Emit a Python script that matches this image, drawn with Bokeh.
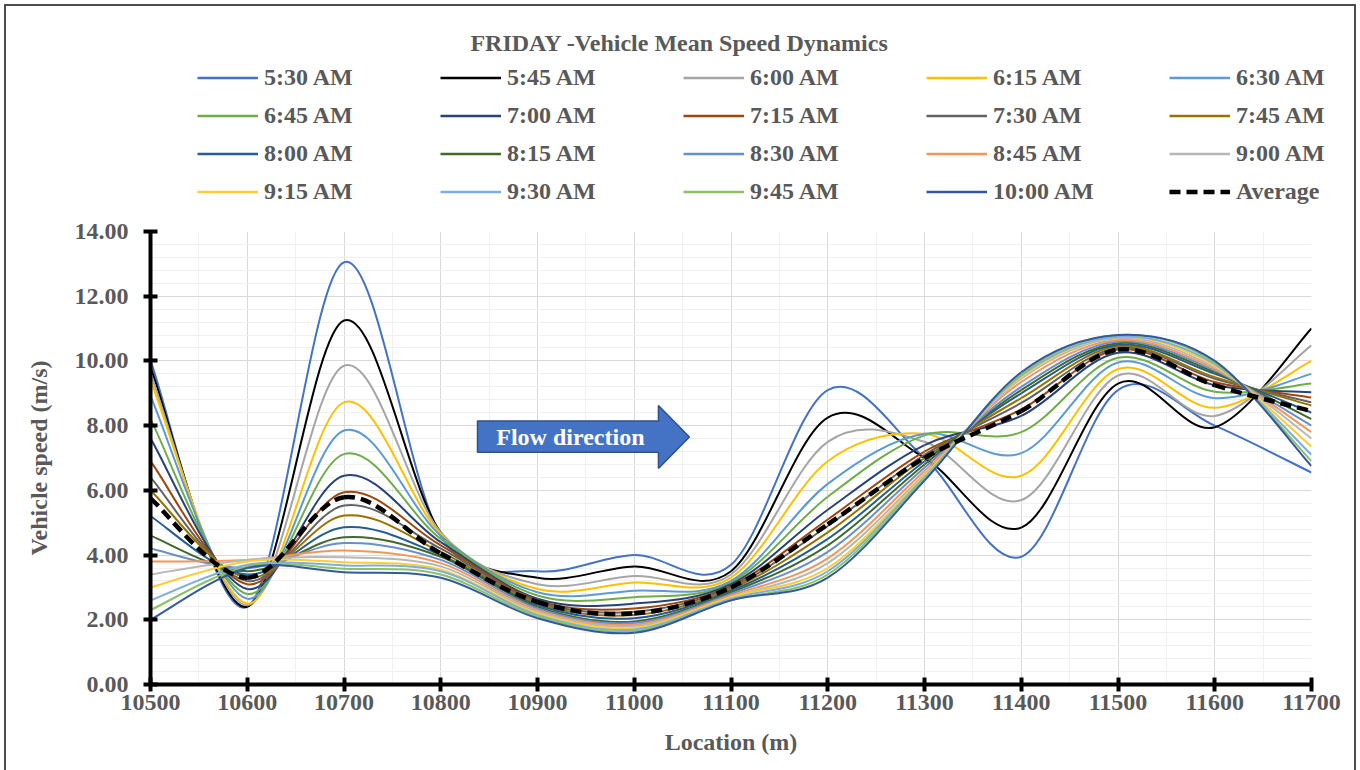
import numpy as np
from bokeh.plotting import figure
from bokeh.layouts import column, row
from bokeh.models import (ColumnDataSource, Legend, LegendItem, Range1d,
                          SingleIntervalTicker, NumeralTickFormatter, Label)
from bokeh.embed import file_html
from bokeh.resources import INLINE

# ---------------- data ----------------
locations = [10500, 10600, 10700, 10800, 10900, 11000, 11100, 11200, 11300, 11400, 11500, 11600, 11700]

time_labels = ["5:30 AM", "5:45 AM", "6:00 AM", "6:15 AM", "6:30 AM",
               "6:45 AM", "7:00 AM", "7:15 AM", "7:30 AM", "7:45 AM",
               "8:00 AM", "8:15 AM", "8:30 AM", "8:45 AM", "9:00 AM",
               "9:15 AM", "9:30 AM", "9:45 AM", "10:00 AM"]

s0530 = [10.0, 2.40, 13.05, 4.60, 3.50, 4.00, 3.70, 9.10, 7.00, 3.95, 9.10, 8.00, 6.55]
s0545 = [9.8, 2.40, 11.25, 4.70, 3.30, 3.65, 3.50, 8.25, 7.00, 4.85, 9.30, 7.95, 11.00]
s0600 = [9.6, 2.45, 9.85, 4.70, 3.10, 3.35, 3.40, 7.50, 7.50, 5.70, 9.55, 8.30, 10.48]
s0615 = [9.4, 2.50, 8.72, 4.65, 2.95, 3.15, 3.30, 6.90, 7.75, 6.45, 9.75, 8.55, 10.00]
s0630 = [8.9, 2.65, 7.85, 4.60, 2.85, 2.90, 3.20, 6.20, 7.75, 7.15, 9.95, 8.85, 9.60]
s0645 = [8.2, 2.80, 7.12, 4.50, 2.75, 2.70, 3.15, 5.80, 7.70, 7.80, 10.10, 9.05, 9.30]
s0700 = [7.6, 2.95, 6.45, 4.40, 2.65, 2.50, 3.10, 5.40, 7.40, 8.30, 10.25, 9.25, 9.03]
s0715 = [6.9, 3.10, 5.94, 4.30, 2.60, 2.35, 3.05, 5.10, 7.20, 8.50, 10.35, 9.35, 8.87]
s0730 = [6.4, 3.20, 5.53, 4.20, 2.55, 2.25, 3.00, 4.90, 7.10, 8.70, 10.40, 9.45, 8.72]
s0745 = [6.0, 3.30, 5.22, 4.10, 2.50, 2.15, 2.95, 4.70, 7.00, 8.85, 10.45, 9.50, 8.62]
s0800 = [5.2, 3.40, 4.86, 4.00, 2.45, 2.05, 2.90, 4.50, 6.90, 9.00, 10.50, 9.60, 8.40]
s0815 = [4.6, 3.50, 4.55, 3.95, 2.40, 1.95, 2.85, 4.30, 6.80, 9.10, 10.55, 9.65, 8.20]
s0830 = [4.2, 3.60, 4.37, 3.85, 2.35, 1.90, 2.80, 4.10, 6.70, 9.20, 10.60, 9.70, 8.00]
s0845 = [3.8, 3.85, 4.14, 3.75, 2.30, 1.85, 2.75, 3.90, 6.60, 9.35, 10.65, 9.75, 7.80]
s0900 = [3.4, 3.85, 3.93, 3.65, 2.25, 1.80, 2.70, 3.75, 6.50, 9.45, 10.70, 9.80, 7.60]
s0915 = [3.0, 3.80, 3.78, 3.55, 2.20, 1.75, 2.70, 3.60, 6.45, 9.50, 10.75, 9.85, 7.35]
s0930 = [2.6, 3.70, 3.68, 3.50, 2.15, 1.70, 2.65, 3.50, 6.40, 9.55, 10.75, 9.90, 7.10]
s0945 = [2.3, 3.65, 3.58, 3.40, 2.10, 1.65, 2.60, 3.40, 6.35, 9.60, 10.80, 9.95, 6.90]
s1000 = [2.0, 3.60, 3.47, 3.30, 2.05, 1.60, 2.60, 3.30, 6.30, 9.65, 10.80, 10.00, 6.75]
average = [5.75, 3.30, 5.79, 4.05, 2.55, 2.20, 3.00, 4.95, 7.00, 8.45, 10.35, 9.25, 8.45]

series_values = [s0530, s0545, s0600, s0615, s0630, s0645, s0700, s0715, s0730, s0745,
                 s0800, s0815, s0830, s0845, s0900, s0915, s0930, s0945, s1000]

colors = ["#4472C4", "#000000", "#A5A5A5", "#FFC000", "#5B9BD5", "#70AD47", "#264478",
          "#9E480E", "#636363", "#997300", "#255E91", "#43682B", "#698ED0", "#F1975A",
          "#B7B7B7", "#FFCD33", "#7CAFDD", "#8CC168", "#335AA1"]

title_text = "FRIDAY  -Vehicle Mean Speed Dynamics"

# annotation (flow arrow) geometry in data units
ARROW_X = [10838, 11025, 11025, 11057, 11025, 11025, 10838]
ARROW_Y = [7.18, 7.18, 6.68, 7.65, 8.62, 8.14, 8.14]
ARROW_TEXT_XY = (10934, 7.64)

FONT = "Liberation Serif"
GRAY = "#595959"
FS = "24px"
AVG_STYLE = dict(line_color="black", line_width=4.5, line_dash="11 6")


def smooth_source(xs, ys):
    """Cubic Bezier segments (Catmull-Rom tangents) through the data points."""
    x = np.asarray(xs, float)
    y = np.asarray(ys, float)
    n = len(x)
    tx = np.empty(n); ty = np.empty(n)
    tx[1:-1] = (x[2:] - x[:-2]) / 2; ty[1:-1] = (y[2:] - y[:-2]) / 2
    tx[0] = (x[1] - x[0]) / 2; ty[0] = (y[1] - y[0]) / 2
    tx[-1] = (x[-1] - x[-2]) / 2; ty[-1] = (y[-1] - y[-2]) / 2
    return ColumnDataSource(dict(
        x0=x[:-1], y0=y[:-1], x1=x[1:], y1=y[1:],
        cx0=x[:-1] + tx[:-1] / 3, cy0=y[:-1] + ty[:-1] / 3,
        cx1=x[1:] - tx[1:] / 3, cy1=y[1:] - ty[1:] / 3))


W = 1348
TOP_H = 205
MAIN_H = 559

# ---------------- header: title + legend ----------------
top = figure(width=W, height=TOP_H, output_backend="svg", toolbar_location=None,
             x_range=Range1d(0, 1), y_range=Range1d(0, 1),
             x_axis_type=None, y_axis_type=None, min_border=0,
             background_fill_color="white", border_fill_color="white")
top.outline_line_color = None
top.xgrid.visible = False
top.ygrid.visible = False

top.add_layout(Label(x=676, y=169, x_units="screen", y_units="screen", text=title_text,
                     text_font=FONT, text_font_style="bold", text_font_size=FS,
                     text_color=GRAY, text_align="center", text_baseline="middle"))

# legend proxies: same data, but outside the header's (0..1) ranges
legend_items = []
for name, vals, col in zip(time_labels, series_values, colors):
    proxy = top.line(locations, vals, line_color=col, line_width=2.5)
    legend_items.append(LegendItem(label=name, renderers=[proxy]))
proxy_avg = top.line(locations, average, **AVG_STYLE)
legend_items.append(LegendItem(label="Average", renderers=[proxy_avg]))

legend = Legend(items=legend_items, location=(191, 6), orientation="horizontal", ncols=5,
                glyph_width=61, glyph_height=27, label_height=27, label_width=165,
                label_standoff=6, spacing=11, padding=0, margin=0,
                border_line_alpha=0, background_fill_alpha=0,
                label_text_font=FONT, label_text_font_style="bold",
                label_text_font_size=FS, label_text_color=GRAY)
top.add_layout(legend)

# ---------------- main chart ----------------
p = figure(width=W, height=MAIN_H, output_backend="svg", toolbar_location=None,
           x_range=Range1d(10500, 11700), y_range=Range1d(0, 14),
           min_border_left=144, min_border_right=43, min_border_top=20,
           min_border_bottom=86, background_fill_color="white",
           border_fill_color="white")
p.outline_line_color = None

for g in (p.xgrid, p.ygrid):
    g.grid_line_color = "#D9D9D9"
    g.grid_line_width = 1
    g.minor_grid_line_color = "#F0F0F0"
    g.minor_grid_line_width = 1

p.xaxis.ticker = SingleIntervalTicker(interval=100, num_minor_ticks=2)
p.yaxis.ticker = SingleIntervalTicker(interval=2, num_minor_ticks=5)
p.yaxis.formatter = NumeralTickFormatter(format="0.00")
p.xgrid.ticker = p.xaxis.ticker
p.ygrid.ticker = p.yaxis.ticker

for ax in (p.xaxis, p.yaxis):
    ax.axis_line_width = 4
    ax.axis_line_color = "black"
    ax.major_tick_line_width = 4
    ax.major_tick_line_color = "black"
    ax.major_tick_in = 7
    ax.major_tick_out = 7
    ax.minor_tick_line_color = None
    ax.major_label_text_font = FONT
    ax.major_label_text_font_style = "bold"
    ax.major_label_text_font_size = FS
    ax.major_label_text_color = GRAY
    ax.axis_label_text_font = FONT
    ax.axis_label_text_font_style = "bold"
    ax.axis_label_text_font_size = FS
    ax.axis_label_text_color = GRAY

p.xaxis.axis_label = "Location (m)"
p.yaxis.axis_label = "Vehicle speed (m/s)"
p.xaxis.major_label_standoff = 3
p.yaxis.major_label_standoff = 15
p.xaxis.axis_label_standoff = 16
p.yaxis.axis_label_standoff = 20

for vals, col in zip(series_values, colors):
    p.bezier("x0", "y0", "x1", "y1", "cx0", "cy0", "cx1", "cy1",
             source=smooth_source(locations, vals), line_color=col, line_width=2)
p.bezier("x0", "y0", "x1", "y1", "cx0", "cy0", "cx1", "cy1",
         source=smooth_source(locations, average), **AVG_STYLE)

# flow direction arrow
p.patch(ARROW_X, ARROW_Y, fill_color="#4472C4", line_color="#2F528F", line_width=1.5)
p.add_layout(Label(x=ARROW_TEXT_XY[0], y=ARROW_TEXT_XY[1], text="Flow direction",
                   text_font=FONT, text_font_style="bold", text_font_size=FS,
                   text_color="white", text_align="center", text_baseline="middle"))

layout = column(row(top, spacing=0), p, spacing=0)
layout.styles = {"margin-left": "6px", "margin-top": "6px",
                 "outline": "2px solid #4d4d4d"}

open("out.html", "w").write(file_html(layout, INLINE))
